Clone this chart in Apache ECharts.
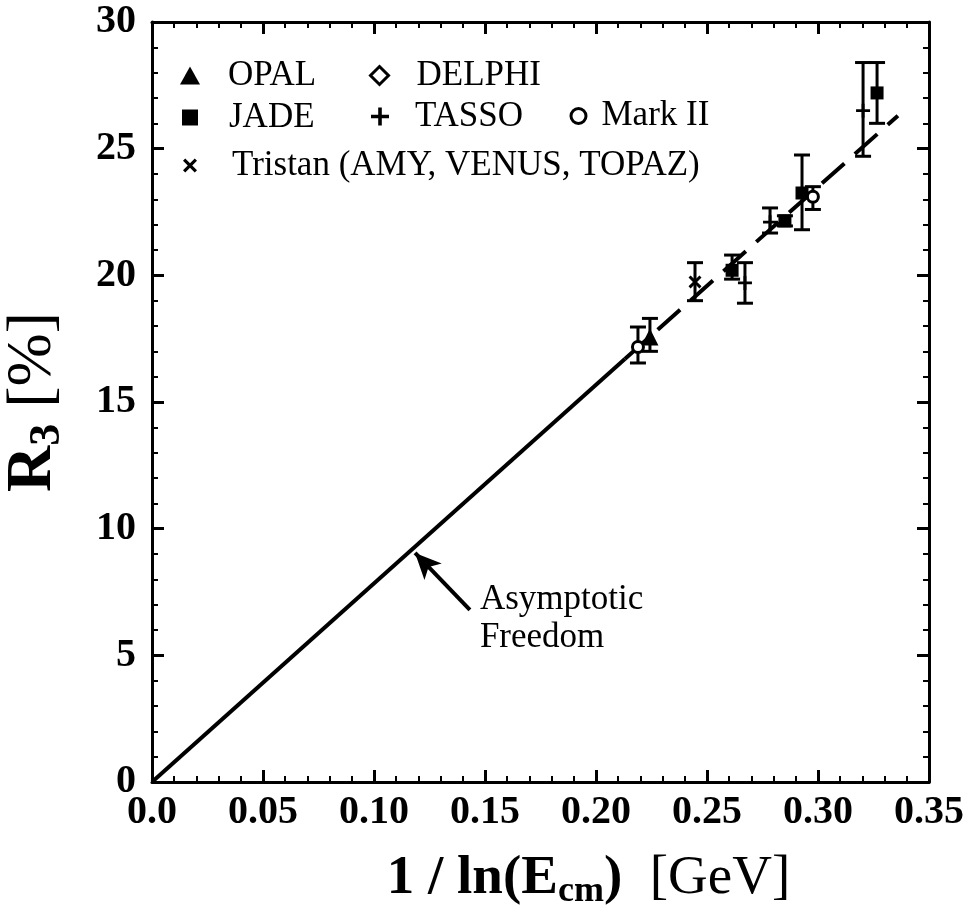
<!DOCTYPE html>
<html><head><meta charset="utf-8">
<script src="https://cdn.jsdelivr.net/npm/echarts@6/dist/echarts.min.js"></script>
<style>html,body{margin:0;padding:0;background:#fff}#c{width:979px;height:919px}</style>
</head><body><div id="c"></div>
<script>
// ---- data ----
const xTicks = [0, 0.05, 0.10, 0.15, 0.20, 0.25, 0.30, 0.35];
const yTicks = [0, 5, 10, 15, 20, 25, 30];

const opalX = [0.2243], opalY = [17.57], opalLo = [17.0], opalHi = [18.3];
const delphiX = [], delphiY = [], delphiLo = [], delphiHi = [];
const jadeX = [0.2613, 0.2851, 0.2928, 0.3266];
const jadeY = [20.2, 22.15, 23.25, 27.2];
const jadeLo = [19.85, 21.95, 21.8, 26.0];
const jadeHi = [20.8, 22.35, 24.75, 28.4];
const tassoX = [0.2671, 0.2784, 0.3203];
const tassoY = [19.7, 22.1, 26.5];
const tassoLo = [18.9, 21.67, 24.7];
const tassoHi = [20.5, 22.66, 28.4];
const markX = [0.2189, 0.2977], markY = [17.17, 23.1], markLo = [16.54, 22.6], markHi = [17.96, 23.5];
const triX = [0.2446], triY = [19.74], triLo = [19.0], triHi = [20.5];

const fitSolidX = [0, 0.213], fitSolidY = [0, 16.7];
const fitDashX = [0.213, 0.336], fitDashY = [16.7, 26.3];

const arrowFrom = [0.1432, 6.79], arrowTo = [0.1185, 9.04];
const noteAt = [0.1477, 6.45];
const noteText = 'Asymptotic\nFreedom';

// ---- build ----
const zip = (a, b) => a.map((v, i) => [v, b[i]]);
const bars = (x, lo, hi) => x.map((v, i) => [v, lo[i], hi[i]]);
const allBars = [].concat(
  bars(opalX, opalLo, opalHi), bars(delphiX, delphiLo, delphiHi),
  bars(jadeX, jadeLo, jadeHi), bars(tassoX, tassoLo, tassoHi),
  bars(markX, markLo, markHi), bars(triX, triLo, triHi));

const SERIF = 'Liberation Serif';
const PLUS = 'path://M4,0H6V4H10V6H6V10H4V6H0V4H4Z';
const CROSS = 'path://M1.6,0L5,3.4L8.4,0L10,1.6L6.6,5L10,8.4L8.4,10L5,6.6L1.6,10L0,8.4L3.4,5L0,1.6Z';

const chart = echarts.init(document.getElementById('c'), null, {renderer: 'canvas'});

const axisCommon = {
  type: 'value',
  axisLine: {show: true, onZero: false, lineStyle: {color: '#000', width: 3}},
  axisTick: {show: true, inside: true, length: 12, lineStyle: {color: '#000', width: 3}},
  minorTick: {show: true, splitNumber: 5, length: 6, lineStyle: {color: '#000', width: 2}},
  splitLine: {show: false},
};

function legendOf(iconCenterX, textStartX, rowY, iw, ih, itemData) {
  return {
    data: [itemData], selectedMode: false, orient: 'horizontal', padding: 0,
    left: iconCenterX - iw / 2, top: rowY - ih / 2,
    itemWidth: iw, itemHeight: ih,
    textStyle: {fontFamily: SERIF, fontSize: 35, color: '#000',
      padding: [0, 0, 0, textStartX - (iconCenterX + iw / 2 + 5)]}
  };
}

const solid = {color: '#000', opacity: 1};
const hollow = {color: '#fff', borderColor: '#000', borderWidth: 3, opacity: 1};

const option = {
  backgroundColor: '#fff',
  animation: false,
  grid: {left: 152, right: 50, top: 22, bottom: 137, containLabel: false, outerBoundsMode: 'none'},
  legend: [
    legendOf(190, 228, 67, 20, 18, {name: 'OPAL', icon: 'triangle', itemStyle: solid}),
    legendOf(378, 415, 67, 18, 18, {name: 'DELPHI', icon: 'diamond', itemStyle: hollow}),
    legendOf(190, 229, 108, 16, 16, {name: 'JADE', icon: 'rect', itemStyle: solid}),
    legendOf(380, 415, 108, 18, 18, {name: 'TASSO', icon: PLUS, itemStyle: solid}),
    legendOf(577, 600, 106, 15, 15, {name: 'Mark II', icon: 'circle', itemStyle: hollow}),
    legendOf(190, 232, 155, 14, 14, {name: 'Tristan (AMY, VENUS, TOPAZ)', icon: CROSS, itemStyle: solid}),
  ],
  xAxis: [
    Object.assign({}, axisCommon, {
      min: 0, max: 0.35, interval: 0.05, position: 'bottom',
      axisLabel: {fontFamily: SERIF, fontWeight: 'bold', fontSize: 40, color: '#000', margin: 11,
        formatter: v => (Math.abs(v) < 1e-9 ? '0.0' : v.toFixed(2)),
        customValues: xTicks},
      name: '{b|1 / ln(E}{s|cm}{b|)}{r|  [GeV]}',
      nameLocation: 'middle', nameGap: 66,
      nameTextStyle: {padding: [0, 0, 0, 96], rich: {
        b: {fontFamily: SERIF, fontWeight: 'bold', fontSize: 55, color: '#000'},
        s: {fontFamily: SERIF, fontWeight: 'bold', fontSize: 36, color: '#000', padding: [26, 0, 0, 0]},
        r: {fontFamily: SERIF, fontSize: 55, color: '#000'}}}
    }),
    Object.assign({}, axisCommon, {
      min: 0, max: 0.35, interval: 0.05, position: 'top',
      axisLabel: {show: false}
    })
  ],
  yAxis: [
    Object.assign({}, axisCommon, {
      min: 0, max: 30, interval: 5, position: 'left',
      axisLabel: {fontFamily: SERIF, fontWeight: 'bold', fontSize: 40, color: '#000', margin: 16,
        customValues: yTicks},
      name: '{b|R}{s|3}{r| [%]}',
      nameLocation: 'middle', nameGap: 82, nameRotate: 90,
      nameTextStyle: {rich: {
        b: {fontFamily: SERIF, fontWeight: 'bold', fontSize: 64, color: '#000'},
        s: {fontFamily: SERIF, fontWeight: 'bold', fontSize: 44, color: '#000', padding: [30, 0, 0, 0]},
        r: {fontFamily: SERIF, fontSize: 64, color: '#000'}}}
    }),
    Object.assign({}, axisCommon, {
      min: 0, max: 30, interval: 5, position: 'right',
      axisLabel: {show: false}
    })
  ],
  series: [
    {type: 'line', data: zip(fitSolidX, fitSolidY), symbol: 'none', silent: true,
      lineStyle: {color: '#000', width: 4}, z: 1},
    {type: 'line', data: zip(fitDashX, fitDashY), symbol: 'none', silent: true,
      lineStyle: {color: '#000', width: 4, type: [30, 14]}, z: 1,
      markLine: {silent: true, symbol: ['none', 'arrow'], symbolSize: [18, 26],
        label: {show: false},
        lineStyle: {color: '#000', width: 4, type: 'solid', opacity: 1},
        data: [[{coord: arrowFrom}, {coord: arrowTo}]]}},
    {type: 'custom', silent: true, z: 3, data: allBars,
      renderItem: (params, api) => {
        const x = api.value(0), lo = api.value(1), hi = api.value(2);
        const pt = api.coord([x, hi]), pb = api.coord([x, lo]);
        const hw = 8, st = {stroke: '#000', lineWidth: 3};
        return {type: 'group', children: [
          {type: 'line', shape: {x1: pt[0], y1: pt[1], x2: pb[0], y2: pb[1]}, style: st},
          {type: 'line', shape: {x1: pt[0] - hw, y1: pt[1], x2: pt[0] + hw, y2: pt[1]}, style: st},
          {type: 'line', shape: {x1: pb[0] - hw, y1: pb[1], x2: pb[0] + hw, y2: pb[1]}, style: st}
        ]};
      }},
    {name: 'OPAL', type: 'scatter', symbol: 'triangle', symbolSize: 17, z: 4,
      itemStyle: solid, data: zip(opalX, opalY)},
    {name: 'DELPHI', type: 'scatter', symbol: 'diamond', symbolSize: 16, z: 4,
      itemStyle: hollow, data: zip(delphiX, delphiY)},
    {name: 'JADE', type: 'scatter', symbol: 'rect', symbolSize: 13, z: 4,
      itemStyle: solid, data: zip(jadeX, jadeY)},
    {name: 'TASSO', type: 'scatter', symbol: PLUS, symbolSize: 14, z: 4,
      itemStyle: solid, data: zip(tassoX, tassoY)},
    {name: 'Mark II', type: 'scatter', symbol: 'circle', symbolSize: 11, z: 4,
      itemStyle: hollow, data: zip(markX, markY)},
    {name: 'Tristan (AMY, VENUS, TOPAZ)', type: 'scatter', symbol: CROSS, symbolSize: 13, z: 4,
      itemStyle: solid, data: zip(triX, triY)},
    {type: 'scatter', silent: true, symbolSize: 0, z: 5, data: [noteAt],
      itemStyle: {opacity: 1},
      label: {show: true, position: 'right', distance: 0, formatter: noteText, opacity: 1,
        fontFamily: SERIF, fontSize: 35, lineHeight: 38, color: '#000', align: 'left', verticalAlign: 'middle'}}
  ]
};
chart.setOption(option);
</script>
</body></html>
